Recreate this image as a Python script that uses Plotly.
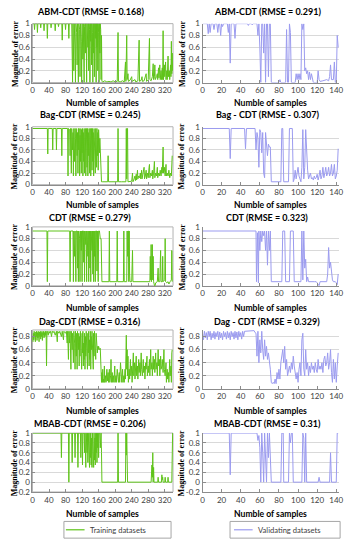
import plotly.graph_objects as go
from plotly.subplots import make_subplots

# ---------------- data (x = sample index, y = magnitude of error) ----------------
abm_train = [(0,1),(4,1),(5,0.9),(6,1),(11,1),(12,0.85),(13,1),(19,1),(20,0.93),(21,1),(27,1),(28,0.88),(29,1),
 (35,1),(36,0.75),(37,1),(44,1),(45,0.93),(46,1),(54,1),(55,0.88),(56,1),(62,1),(63,0.95),(64,1),(71,1),(72,0.72),
 (73,1),(79,1),(80,0.9),(81,1),(87,1),(88,0.75),(89,1),(95,1),(96,0.55),(97,0),(98,1),(100,0.2),(101,1),(103,0.6),
 (104,0),(105,1),(107,0.85),(108,0.3),(109,1),(111,0),(112,1),(114,0.9),(115,0.1),(116,1),(118,0.7),(119,0),(120,1),
 (121,0.8),(122,0.4),(123,1),(125,0),(126,0.95),(127,1),(128,0.5),(129,1),(130,0.8),(131,0),(132,1),(134,0.6),(135,1),
 (136,0.2),(137,1),(138,0.9),(139,0),(140,1),(141,0.7),(142,1),(143,0.3),(144,1),(145,0.85),(146,0),(147,1),(148,0.5),
 (149,1),(150,0.1),(151,1),(152,0.75),(153,1),(154,0),(155,1),(156,0.6),(157,1),(158,0.2),(159,1),(160,0.85),(161,0),
 (162,1),(163,0.5),(164,1),(165,0.9),(166,0.05),(167,0.8),(168,0.02),(170,0.01),(175,0.03),(180,0.01),(185,0.02),
 (190,0.01),(195,0.03),(200,0.01),(205,0.02),(207,0.85),(208,0.02),(212,0.01),(218,0.03),(222,0.01),(225,0.35),
 (226,0.02),(228,0.8),(229,0.05),(231,0.15),(232,0.02),(236,0.04),(240,0.1),(241,0.02),(245,0.03),(248,0.05),
 (250,0.01),(255,0.03),(258,0.72),(259,0.02),(263,0.04),(265,0.1),(266,0.02),(270,0.03),(275,0.15),(276,0.02),
 (280,0.05),(283,0.75),(284,0.05),(287,0.03),(290,0.1),(292,0.32),(293,0.05),(295,0.1),(296,0.3),(297,0.05),
 (300,0.1),(302,0.15),(303,0.05),(305,0.25),(306,0.08),(308,0.3),(309,0.05),(311,0.2),(312,0.05),(314,0.25),
 (315,0.05),(316,0.88),(317,0.05),(319,0.3),(320,0.1),(322,0.35),(323,0.05),(325,0.2),(326,0.05),(328,0.45),
 (329,0.1),(331,0.2),(332,0.05),(334,0.3),(335,0.1),(336,0.7),(337,0.15),(338,0.5),(339,0.2)]

abm_valid = [(0,1),(5,1),(6,0.83),(7,1),(8,0.85),(9,1),(11,1),(12,0.9),(13,1),(15,1),(16,0.85),(17,1),(18,1),
 (19,0.8),(20,1),(21,0.95),(22,1),(26,1),(27,0.85),(28,1),(29,0.33),(30,1),(33,1),(34,0.75),(35,1),(47,1),(48,0.97),
 (49,1),(51,1),(52,0.98),(53,1),(57,1),(58,0.8),(59,1),(60,0.6),(61,0.0),(62,1),(63,1),(64,0.5),(65,1),(66,0.0),
 (67,1),(68,1),(69,0.1),(70,1),(71,1),(72,0.0),(80,0.0),(81,0.05),(82,0.0),(87,0.0),(88,0.9),(89,0.0),(90,0.0),
 (91,1),(92,0.85),(93,0.0),(97,0.0),(98,0.15),(99,0.05),(100,0.15),(101,0.05),(102,0.15),(103,0.05),(104,1),
 (105,0.9),(106,1),(107,0.2),(108,0.25),(109,0.15),(110,0.2),(111,0.05),(112,0.18),(113,0.05),(114,0.15),
 (115,0.03),(116,0.0),(120,0.0),(121,0.2),(122,0.05),(123,0.02),(126,0.03),(130,0.05),(132,0.03),(133,0.1),
 (134,0.3),(135,0.05),(137,0.05),(138,0.35),(139,0.0),(140,0.0),(141,0.8),(142,0.6)]

bag_train = [(0,0.97),(36,0.97),(37,0.53),(38,0.97),(48,0.97),(49,0.6),(50,0.97),(57,0.97),(58,0.6),(59,0.97),
 (70,0.97),(71,0.5),(72,0.97),(85,0.97),(86,0.15),(87,0.97),(90,0.95),(91,0.5),(92,0.97),(94,0.2),(95,0.97),
 (97,0.6),(98,0.9),(99,0.15),(100,0.97),(102,0.4),(103,0.97),(104,0.8),(105,0.15),(106,0.97),(108,0.5),(109,0.9),
 (110,0.2),(111,0.97),(112,0.6),(113,0.97),(114,0.15),(115,0.85),(116,0.4),(117,0.97),(118,0.2),(119,0.95),
 (120,0.55),(121,0.97),(122,0.15),(123,0.9),(124,0.4),(125,0.97),(126,0.2),(127,0.8),(128,0.97),(129,0.15),
 (130,0.7),(131,0.97),(132,0.3),(133,0.97),(134,0.15),(135,0.9),(136,0.5),(137,0.97),(138,0.2),(139,0.85),
 (140,0.97),(141,0.15),(142,0.6),(143,0.97),(144,0.25),(145,0.97),(146,0.4),(147,0.9),(148,0.15),(149,0.97),
 (150,0.5),(151,0.8),(152,0.2),(153,0.97),(154,0.6),(155,0.3),(156,0.97),(157,0.5),(158,0.9),(159,0.25),
 (160,0.95),(161,0.7),(162,0.55),(163,0.8),(164,0.5),(165,0.6),(166,0.3),(167,0.05),(170,0.05),(175,0.05),
 (182,0.05),(183,0.5),(184,0.05),(190,0.05),(200,0.05),(206,0.05),(207,0.97),(208,0.05),(215,0.05),(226,0.05),
 (227,0.97),(228,0.1),(229,0.97),(230,0.97),(231,0.05),(235,0.05),(240,0.06),(242,0.2),(243,0.05),(246,0.1),
 (248,0.15),(249,0.07),(251,0.18),(252,0.08),(254,0.25),(255,0.1),(257,0.15),(259,0.12),(261,0.2),(262,0.1),
 (264,0.25),(265,0.1),(268,0.2),(270,0.3),(271,0.1),(273,0.15),(275,0.25),(276,0.1),(278,0.2),(280,0.12),
 (282,0.3),(283,0.35),(284,0.12),(286,0.2),(288,0.15),(290,0.25),(291,0.1),(293,0.2),(295,0.4),(296,0.12),
 (298,0.2),(300,0.15),(302,0.3),(303,0.12),(305,0.2),(307,0.15),(309,0.25),(311,0.15),(313,0.3),(314,0.2),
 (316,0.65),(317,0.2),(319,0.3),(321,0.15),(323,0.35),(324,0.15),(326,0.2),(328,0.15),(330,0.25),(332,0.12),
 (334,0.2),(336,0.15),(338,0.5)]

bag_valid = [(0,0.97),(28,0.97),(29,0.45),(30,0.97),(44,0.97),(45,0.62),(46,0.97),(55,0.97),(56,0.6),(57,0.9),
 (58,0.8),(59,0.3),(60,0.95),(61,0.9),(62,0.55),(63,0.9),(64,0.2),(65,0.12),(66,0.9),(67,0.7),(68,0.5),(69,0.7),
 (70,0.65),(71,0.65),(72,0.05),(82,0.05),(83,0.97),(84,0.97),(85,0.05),(90,0.05),(91,0.97),(94,0.97),(95,0.05),
 (96,0.1),(97,0.25),(98,0.1),(99,0.2),(100,0.3),(101,0.15),(102,0.1),(103,0.05),(104,0.3),(105,0.95),(106,0.1),
 (107,0.3),(108,0.95),(109,0.4),(110,0.25),(111,0.1),(112,0.15),(113,0.2),(114,0.1),(115,0.12),(116,0.08),
 (117,0.15),(118,0.1),(119,0.12),(120,0.18),(121,0.08),(122,0.15),(123,0.25),(124,0.1),(125,0.15),(126,0.3),
 (127,0.12),(128,0.2),(129,0.3),(130,0.15),(131,0.2),(132,0.3),(133,0.15),(134,0.2),(135,0.35),(136,0.15),
 (137,0.2),(138,0.35),(139,0.1),(140,0.15),(141,0.25),(142,0.62)]

cdt_train = [(0,0.93),(35,0.93),(36,0.07),(37,0.93),(90,0.93),(91,0.07),(92,0.93),(98,0.93),(99,0.07),(100,0.93),
 (102,0.5),(103,0.93),(105,0.07),(106,0.93),(108,0.93),(109,0.3),(110,0.93),(111,0.07),(112,0.93),(114,0.8),
 (115,0.07),(116,0.93),(118,0.6),(119,0.93),(120,0.07),(121,0.93),(123,0.93),(124,0.4),(125,0.93),(126,0.07),
 (127,0.93),(129,0.7),(130,0.93),(131,0.07),(132,0.93),(134,0.5),(135,0.93),(136,0.07),(137,0.85),(138,0.93),
 (139,0.3),(140,0.93),(141,0.07),(142,0.93),(144,0.6),(145,0.93),(146,0.2),(147,0.93),(148,0.07),(149,0.93),
 (150,0.5),(151,0.93),(152,0.07),(153,0.93),(155,0.93),(156,0.25),(157,0.93),(159,0.07),(160,0.93),(162,0.93),
 (164,0.8),(166,0.8),(168,0.07),(185,0.07),(186,0.93),(187,0.07),(204,0.07),(205,0.93),(206,0.07),(220,0.07),
 (221,0.93),(222,0.07),(228,0.07),(229,0.93),(230,0.5),(231,0.93),(232,0.93),(233,0.07),(234,0.93),(235,0.2),
 (236,0.07),(240,0.07),(242,0.6),(243,0.07),(284,0.07),(285,0.5),(286,0.1),(287,0.7),(288,0.07),(290,0.7),
 (291,0.1),(292,0.5),(293,0.07),(295,0.0),(296,-0.02),(298,0.05),(300,0.07),(302,0.07),(304,0.3),(305,0.07),
 (308,0.07),(310,0.6),(311,0.07),(314,0.07),(315,0.5),(316,0.07),(320,0.1),(321,0.8),(322,0.07),(325,0.05),
 (328,0.07),(330,0.03),(333,0.07),(336,0.1),(337,0.6),(338,0.07)]

cdt_valid = [(0,0.93),(56,0.93),(56.5,0.07),(57.5,0.9),(58.5,0.05),(59,0.93),(60,0.6),(61,0.93),(62,0.75),
 (63,0.93),(64,0.85),(65,0.93),(66,0.6),(67,0.93),(68,0.35),(69,0.93),(70,0.6),(71,0.93),(72,0.07),(83,0.07),
 (84,0.93),(86,0.93),(87,0.07),(91,0.07),(92,0.93),(95,0.93),(96,0.07),(103,0.07),(104,0.93),(105,0.1),(106,0.93),
 (107,0.3),(108,0.45),(109,0.07),(110,0.15),(111,0.07),(117,0.07),(119,0.07),(120,0.05),(121,0.02),(122,0.0),
 (123,0.07),(130,0.07),(131,0.2),(132,0.65),(133,0.3),(134,0.4),(135,0.25),(136,0.1),(137,0.07),(139,0.07),
 (140,0.05),(141,0.02),(142,0.2)]

dag_train = [(0,0.8),(1,0.72),(2,0.85),(3,0.75),(4,0.88),(5,0.78),(6,0.86),(7,0.72),(8,0.87),(9,0.8),(10,0.88),
 (11,0.74),(12,0.86),(13,0.78),(14,0.88),(15,0.82),(16,0.72),(17,0.87),(18,0.8),(19,0.88),(20,0.76),(21,0.86),
 (22,0.8),(23,0.88),(24,0.74),(25,0.86),(26,0.82),(27,0.88),(28,0.78),(29,0.86),(30,0.8),(31,0.88),(32,0.82),
 (33,0.88),(34,0.35),(35,0.86),(36,0.88),(38,0.82),(40,0.88),(42,0.85),(44,0.88),(46,0.8),(48,0.88),(50,0.86),
 (52,0.88),(55,0.82),(58,0.88),(60,0.72),(61,0.88),(64,0.85),(66,0.88),(70,0.8),(72,0.88),(75,0.75),(76,0.88),
 (80,0.85),(82,0.88),(84,0.7),(85,0.88),(87,0.45),(88,0.88),(90,0.7),(91,0.88),(93,0.3),(94,0.88),(96,0.6),
 (97,0.85),(99,0.4),(100,0.88),(102,0.7),(103,0.3),(104,0.88),(106,0.5),(107,0.85),(108,0.3),(109,0.88),
 (111,0.6),(112,0.85),(113,0.35),(114,0.8),(115,0.5),(116,0.88),(117,0.4),(118,0.75),(119,0.3),(120,0.85),
 (121,0.55),(122,0.88),(123,0.35),(124,0.7),(125,0.45),(126,0.85),(127,0.3),(128,0.8),(129,0.5),(130,0.88),
 (131,0.4),(132,0.7),(133,0.3),(134,0.85),(135,0.55),(136,0.88),(137,0.35),(138,0.75),(139,0.45),(140,0.88),
 (141,0.3),(142,0.8),(143,0.6),(144,0.88),(145,0.4),(146,0.7),(147,0.3),(148,0.85),(149,0.5),(150,0.88),
 (151,0.6),(152,0.8),(153,0.45),(154,0.85),(155,0.6),(156,0.75),(157,0.55),(158,0.65),(159,0.6),(160,0.65),
 (162,0.6),(164,0.62),(166,0.3),(167,0.1),(168,0.25),(169,0.1),(170,0.3),(171,0.1),(172,0.15),(173,0.1),
 (174,0.35),(175,0.1),(177,0.2),(178,0.1),(180,0.3),(181,0.12),(183,0.25),(184,0.1),(186,0.3),(187,0.1),
 (189,0.2),(190,0.45),(191,0.1),(193,0.25),(194,0.1),(196,0.2),(197,0.1),(199,0.35),(200,0.1),(202,0.2),
 (203,0.1),(205,0.3),(206,0.15),(208,0.1),(210,0.25),(211,0.1),(213,0.4),(214,0.15),(216,0.1),(218,0.3),
 (219,0.1),(221,0.2),(222,0.1),(224,0.3),(225,0.15),(227,0.82),(228,0.3),(229,0.6),(230,0.2),(231,0.5),
 (232,0.1),(234,0.3),(235,0.15),(237,0.45),(238,0.2),(240,0.35),(241,0.1),(243,0.3),(244,0.55),(245,0.2),
 (247,0.4),(248,0.15),(250,0.3),(251,0.5),(252,0.2),(254,0.35),(255,0.15),(257,0.45),(258,0.25),(260,0.4),
 (261,0.2),(263,0.55),(264,0.3),(266,0.2),(268,0.45),(269,0.25),(271,0.35),(272,0.15),(274,0.4),(275,0.3),
 (277,0.5),(278,0.2),(280,0.35),(281,0.25),(283,0.45),(284,0.2),(286,0.6),(287,0.3),(289,0.4),(290,0.2),
 (292,0.5),(293,0.3),(295,0.45),(296,0.25),(298,0.55),(299,0.3),(301,0.4),(302,0.2),(304,0.6),(305,0.35),
 (307,0.45),(308,0.2),(310,0.5),(311,0.3),(313,0.35),(314,0.45),(316,0.25),(318,0.6),(319,0.3),(321,0.2),
 (323,0.4),(324,0.1),(326,0.3),(327,0.15),(329,0.25),(330,0.1),(332,0.45),(333,0.2),(335,0.35),(336,0.1),
 (337,0.55),(338,0.6)]

dag_valid = [(0,0.85),(1,0.75),(2,0.88),(3,0.78),(4,0.86),(5,0.75),(6,0.88),(7,0.8),(8,0.88),(9,0.75),(10,0.85),
 (11,0.78),(12,0.88),(13,0.76),(14,0.86),(15,0.8),(16,0.88),(17,0.75),(18,0.87),(19,0.78),(20,0.85),(21,0.75),
 (22,0.88),(23,0.8),(24,0.86),(25,0.76),(26,0.88),(27,0.78),(28,0.86),(29,0.75),(30,0.88),(31,0.8),(32,0.86),
 (33,0.76),(34,0.88),(35,0.78),(36,0.87),(37,0.75),(38,0.88),(39,0.8),(40,0.86),(41,0.76),(42,0.88),(43,0.8),
 (44,0.88),(46,0.88),(48,0.88),(50,0.88),(52,0.88),(54,0.89),(55,0.86),(56,0.85),(57,0.5),(58,0.88),(59,0.4),
 (60,0.75),(61,0.55),(62,0.88),(63,0.6),(64,0.45),(65,0.75),(66,0.5),(67,0.65),(68,0.45),(69,0.55),(70,0.45),
 (71,0.3),(72,0.1),(73,0.08),(74,0.1),(75,0.08),(76,0.15),(77,0.08),(78,0.25),(79,0.15),(80,0.3),(81,0.15),
 (82,0.4),(83,0.55),(84,0.6),(85,0.4),(86,0.65),(87,0.3),(88,0.45),(89,0.2),(90,0.3),(91,0.35),(92,0.25),
 (93,0.4),(94,0.3),(95,0.5),(96,0.35),(97,0.2),(98,0.15),(99,0.25),(100,0.1),(101,0.3),(102,0.4),(103,0.2),
 (104,0.75),(105,0.85),(106,0.3),(107,0.2),(108,0.6),(109,0.3),(110,0.4),(111,0.2),(112,0.35),(113,0.25),
 (114,0.4),(115,0.3),(116,0.35),(117,0.25),(118,0.4),(119,0.3),(120,0.25),(121,0.45),(122,0.3),(123,0.35),
 (124,0.3),(125,0.4),(126,0.25),(127,0.45),(128,0.5),(129,0.35),(130,0.4),(131,0.55),(132,0.3),(133,0.4),
 (134,0.6),(135,0.25),(136,0.1),(137,0.45),(138,0.15),(139,0.4),(140,0.1),(141,0.35),(142,0.55)]

mbab_train = [(0,1),(69,1),(70,0.5),(71,1),(87,1),(88,0.0),(89,1),(95,1),(96,0.4),(97,1),(102,1),(103,0.5),
 (104,1),(109,1),(110,0.3),(111,1),(116,1),(117,0.5),(118,1),(120,1),(121,0.35),(122,1),(125,1),(126,0.6),
 (127,1),(129,0.3),(130,1),(132,0.6),(133,1),(134,0.4),(135,1),(137,0.7),(138,0.3),(139,1),(140,0.5),(141,1),
 (142,0.35),(143,0.9),(144,0.3),(145,1),(146,0.5),(147,0.8),(148,0.3),(149,1),(150,0.45),(151,0.9),(152,0.35),
 (153,1),(154,0.6),(155,1),(156,0.4),(157,1),(158,0.7),(159,1),(160,0.5),(161,1),(163,1),(164,0.7),(166,1),
 (167,0.6),(168,0.0),(206,0.0),(207,1),(208,0.0),(225,0.0),(226,1),(227,0.55),(228,1),(229,0.6),(230,0.0),
 (287,0.0),(288,0.2),(289,0.35),(290,0.1),(291,0.6),(292,0.0),(293,0.3),(294,0.0),(303,0.0),(304,0.1),
 (305,0.0),(312,0.0),(313,0.15),(314,0.05),(315,0.1),(316,0.0),(320,0.0),(321,0.1),(322,0.0),(327,0.0),
 (328,0.1),(329,0.0),(337,0.0),(338,1),(339,1)]

mbab_valid = [(0,1),(28,1),(29,0.15),(30,1),(57,1),(58,0.85),(59,0.95),(60,0.7),(61,0),(62,1),(63,0.6),(64,0),
 (65,1),(66,0.55),(67,0),(68,1),(69,0.5),(70,1),(71,0.6),(72,0),(82,0),(83,1),(84.5,1),(85,0),(90,0),(91,1),
 (92,0.8),(93,1),(94,1),(95,0),(104,0),(105,1),(106,0.9),(107,0),(108,1),(109,0),(121,0),(122,0.1),(123,0),
 (133,0),(134,0.6),(135,0),(140,0),(141,1),(142,1)]

titles_train = ["ABM-CDT (RMSE = 0.168)", "Bag-CDT (RMSE = 0.245)", "CDT (RMSE = 0.279)",
                "Dag-CDT (RMSE = 0.316)", "MBAB-CDT (RMSE = 0.206)"]
titles_valid = ["ABM-CDT (RMSE = 0.291)", "Bag - CDT (RMSE - 0.307)", "CDT (RMSE = 0.323)",
                "Dag - CDT (RMSE = 0.329)", "MBAB-CDT (RMSE = 0.31)"]
legend_names = ["Training datasets", "Validating datasets"]
train_series = [abm_train, bag_train, cdt_train, dag_train, mbab_train]
valid_series = [abm_valid, bag_valid, cdt_valid, dag_valid, mbab_valid]
y_ranges = [[0, 1], [0, 1], [0, 1], [0, 0.9], [-0.2, 1]]
y_ticks = [[0, 0.2, 0.4, 0.6, 0.8, 1]] * 3 + [[0, 0.2, 0.4, 0.6, 0.8], [-0.2, 0, 0.2, 0.4, 0.6, 0.8, 1]]
x_ticks_train = [0, 40, 80, 120, 160, 200, 240, 280, 320]
x_ticks_valid = [0, 20, 40, 60, 80, 100, 120, 140]

# ---------------- layout geometry (pixels) ----------------
W, H = 351, 550
col_px = [(31, 174), (204, 343)]
row_px = [(19, 79), (124, 183), (226, 286), (331, 391), (436, 496)]
title_py = [7, 112, 216, 322, 426]
xtitle_py = [100, 204, 309, 414, 518]
legend_box = [(63, 172, 65, 84, 87), (232, 344, 236, 255, 258)]  # x0, x1, line start, line end, text start
legend_y = (526, 543)

GREEN = "#5fc31a"
BLUE = "#9b9bef"
TICKFONT = dict(family="Lato, Arial", size=8, color="#404040")
AXC = "#8c8c8c"

fig = make_subplots(rows=5, cols=2)

def fx(p): return p / W
def fy(p): return 1 - p / H

for r in range(5):
    for c in range(2):
        data = train_series[r] if c == 0 else valid_series[r]
        xs = [p[0] for p in data]
        ys = [p[1] for p in data]
        fig.add_trace(go.Scatter(
            x=xs, y=ys, mode="lines", name=legend_names[c],
            line=dict(color=GREEN if c == 0 else BLUE, width=1),
            showlegend=False,
        ), row=r + 1, col=c + 1)
        idx = r * 2 + c + 1
        sfx = "" if idx == 1 else str(idx)
        x0, x1 = col_px[c]
        yt, yb = row_px[r]
        fig.layout["xaxis" + sfx].update(
            domain=[fx(x0), fx(x1)], anchor="y" + sfx,
            range=[0, 340] if c == 0 else [0, 143],
            tickvals=x_ticks_train if c == 0 else x_ticks_valid,
            showgrid=False, zeroline=False, showline=True, linecolor=AXC, linewidth=1,
            ticks="inside", ticklen=3, tickcolor=AXC, tickfont=TICKFONT,
        )
        fig.layout["yaxis" + sfx].update(
            domain=[fy(yb), fy(yt)], anchor="x" + sfx,
            range=y_ranges[r], tickvals=y_ticks[r],
            ticktext=[("%g" % v) for v in y_ticks[r]],
            showgrid=True, gridcolor="#d9d9d9", gridwidth=1, zeroline=False,
            showline=True, linecolor=AXC, linewidth=1,
            ticks="inside", ticklen=3, tickcolor=AXC, tickfont=TICKFONT,
        )
        cx = 90 if c == 0 else 270
        fig.add_annotation(x=fx(cx), y=fy(title_py[r]), xref="paper", yref="paper",
                           text="<b>" + (titles_train[r] if c == 0 else titles_valid[r]) + "</b>",
                           showarrow=False, font=dict(family="Lato, Arial", size=9, color="#000000"),
                           xanchor="center", yanchor="middle")
        fig.add_annotation(x=fx((x0 + x1) / 2), y=fy(xtitle_py[r]), xref="paper", yref="paper",
                           text="<b>Numble of samples</b>", showarrow=False,
                           font=dict(family="Lato, Arial", size=8.6, color="#000000"),
                           xanchor="center", yanchor="middle")
        fig.add_annotation(x=fx(13 if c == 0 else 183), y=fy((yt + yb) / 2), xref="paper", yref="paper",
                           text="<b>Magnitude of error</b>", showarrow=False, textangle=-90,
                           font=dict(family="Liberation Serif, Times New Roman", size=8, color="#000000"),
                           xanchor="center", yanchor="middle")
        if c == 0:
            fig.add_shape(type="rect", xref="paper", yref="paper",
                          x0=fx(x0), x1=fx(x1), y0=fy(yb), y1=fy(yt),
                          line=dict(color="#b3b3b3", width=1), layer="below")

# legends drawn as boxed keys under each column
for c in range(2):
    bx0, bx1, lx0, lx1, tx = legend_box[c]
    ly0, ly1 = legend_y
    ym = (ly0 + ly1) / 2
    fig.add_shape(type="rect", xref="paper", yref="paper", x0=fx(bx0), x1=fx(bx1),
                  y0=fy(ly1), y1=fy(ly0), line=dict(color="#a6a6a6", width=1), fillcolor="white")
    fig.add_shape(type="line", xref="paper", yref="paper", x0=fx(lx0), x1=fx(lx1),
                  y0=fy(ym), y1=fy(ym), line=dict(color=GREEN if c == 0 else BLUE, width=1.2))
    fig.add_annotation(x=fx(tx), y=fy(ym), xref="paper", yref="paper", text=legend_names[c],
                       showarrow=False, xanchor="left", yanchor="middle",
                       font=dict(family="Lato, Arial", size=7.6, color="#404040"))

fig.update_layout(
    width=W, height=H, margin=dict(l=0, r=0, t=0, b=0),
    paper_bgcolor="white", plot_bgcolor="white", showlegend=False, hovermode=False,
)

fig.write_html("out.html", config={"displayModeBar": False},
               post_script="document.body.style.margin='0';document.body.style.overflow='hidden';")
